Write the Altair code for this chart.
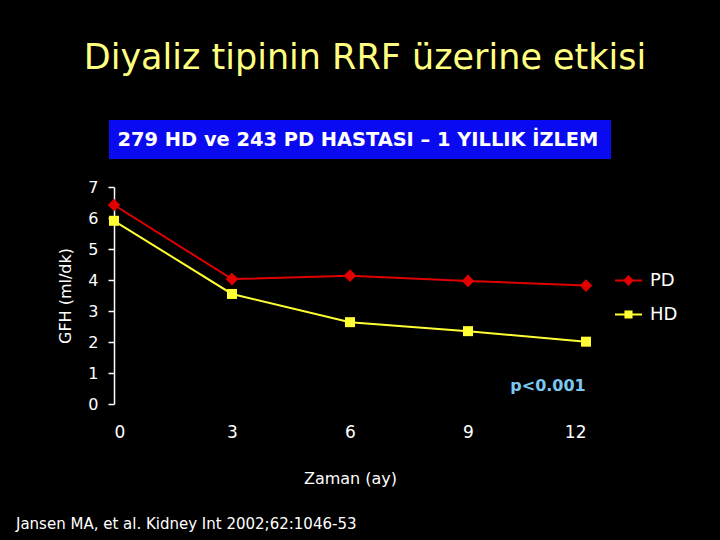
import altair as alt
import pandas as pd

# ---- data ----
months = [0, 3, 6, 9, 12]
pd_gfr = [6.42, 4.03, 4.14, 3.97, 3.82]
hd_gfr = [5.91, 3.55, 2.64, 2.35, 2.01]
series_names = ["PD", "HD"]
series_colors = ["#E00000", "#FFFF33"]
x_ticks = [0, 3, 6, 9, 12]
y_ticks = [0, 1, 2, 3, 4, 5, 6, 7]

title_text = "Diyaliz tipinin RRF üzerine etkisi"
box_text = "279 HD ve 243 PD HASTASI – 1 YILLIK İZLEM"
pval_text = "p<0.001"
ref_text = "Jansen MA, et al. Kidney Int 2002;62:1046-53"

FONT = "DejaVu Sans"

df = pd.DataFrame({
    "month": months * 2,
    "gfr": pd_gfr + hd_gfr,
    "series": ["PD"] * len(months) + ["HD"] * len(months),
})

x = alt.X("month:Q", scale=alt.Scale(domain=[0, 12], nice=False),
          axis=alt.Axis(values=x_ticks, title="Zaman (ay)", domain=False, ticks=False,
                        grid=False, labelPadding=20, titlePadding=30, labelFontSize=17,
                        titleFontSize=16, labelColor="white", titleColor="white",
                        labelFont=FONT, titleFont=FONT, titleFontWeight="normal",
                        labelFontWeight="normal"))
y = alt.Y("gfr:Q", scale=alt.Scale(domain=[0, 7], nice=False),
          axis=alt.Axis(values=y_ticks, title="GFH (ml/dk)", domain=True, domainColor="white",
                        domainWidth=1.5, ticks=True, tickColor="white", tickSize=6,
                        tickWidth=1.5, grid=False, labelPadding=10, titlePadding=14,
                        labelFontSize=16, titleFontSize=16, labelColor="white",
                        titleColor="white", labelFont=FONT, titleFont=FONT,
                        titleFontWeight="normal", labelFontWeight="normal"))

# plot marks: stroke/fill scales (legend off); ordered differently from the legend's
# color scale so the two are not merged into one legend
plot_scale = alt.Scale(domain=series_names[::-1], range=series_colors[::-1])
stroke_enc = alt.Stroke("series:N", scale=plot_scale, legend=None)
fill_enc = alt.Fill("series:N", scale=plot_scale, legend=None)

base = alt.Chart(df)

lines = base.mark_line(strokeWidth=2).encode(x=x, y=y, stroke=stroke_enc)
pd_pts = base.transform_filter("datum.series == 'PD'").mark_point(
    shape="diamond", filled=True, size=160, opacity=1, strokeWidth=0).encode(x=x, y=y, fill=fill_enc)
hd_pts = base.transform_filter("datum.series == 'HD'").mark_point(
    shape="square", filled=True, size=100, opacity=1, strokeWidth=0).encode(x=x, y=y, fill=fill_enc)

# legend symbols: a short line with the series marker on it
pd_path = "M-1,-0.08H1V0.08H-1Z M0,-0.4L0.4,0L0,0.4L-0.4,0Z"
hd_path = "M-1,-0.08H1V0.08H-1Z M-0.3,-0.3H0.3V0.3H-0.3Z"

leg = alt.Legend(title=None, orient="none", legendX=501, legendY=80, padding=0,
                 rowPadding=11, labelOffset=8, symbolSize=729, labelFontSize=18,
                 labelColor="white", labelFont=FONT, labelFontWeight="normal",
                 symbolStrokeWidth=0)
legend_layer = base.transform_filter("datum.month < 0").mark_point(
    filled=True, opacity=1, size=729).encode(
    x=x, y=y,
    color=alt.Color("series:N", scale=alt.Scale(domain=series_names, range=series_colors),
                    legend=leg),
    shape=alt.Shape("series:N", scale=alt.Scale(domain=series_names, range=[pd_path, hd_path]),
                    legend=leg),
)

one = pd.DataFrame({"a": [0]})
box = alt.Chart(one).mark_rect(color="#0A0AF0").encode(
    x=alt.value(-5), x2=alt.value(497), y=alt.value(-67), y2=alt.value(-28))

def label(text, xv, yv, size, colr, align="center", weight="normal"):
    return alt.Chart(pd.DataFrame({"t": [text]})).mark_text(
        font=FONT, fontSize=size, color=colr, align=align, baseline="middle",
        fontWeight=weight).encode(text="t:N", x=alt.value(xv), y=alt.value(yv))

title = label(title_text, 251, -129, 35, "#FFFF80")
boxt = label(box_text, 244, -47, 19.4, "white", weight="bold")
pval = label(pval_text, 434, 199, 16, "#7EC8F0", weight="bold")
ref = label(ref_text, -98, 337, 15, "white", align="left")

chart = alt.layer(box, lines, pd_pts, hd_pts, legend_layer, title, boxt, pval, ref).properties(
    width=472, height=217,
    autosize=alt.AutoSizeParams(type="none"),
    padding={"left": 114, "top": 187, "right": 134, "bottom": 136},
    background="black",
).configure_view(stroke=None)

chart.save("out.html", embed_options={"renderer": "svg", "actions": False})
